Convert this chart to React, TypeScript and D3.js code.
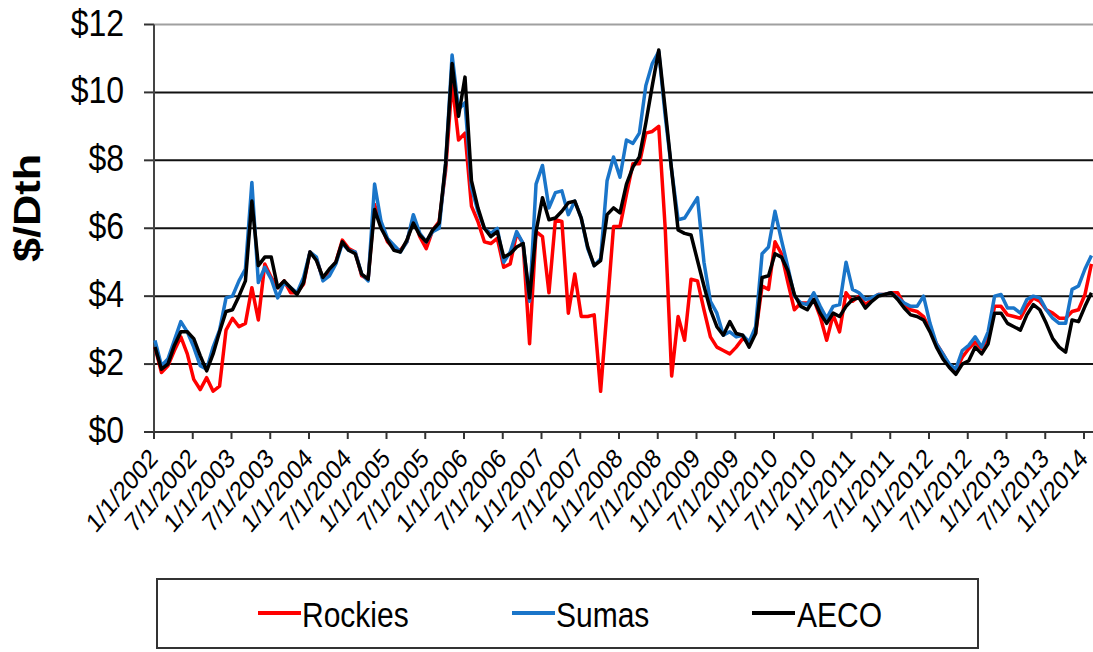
import React from "react";
import * as d3 from "d3";

// Monthly prices, Jan 2002 .. Feb 2014 ($/Dth)
const tickLabels = [
  "1/1/2002", "7/1/2002", "1/1/2003", "7/1/2003", "1/1/2004", "7/1/2004",
  "1/1/2005", "7/1/2005", "1/1/2006", "7/1/2006", "1/1/2007", "7/1/2007",
  "1/1/2008", "7/1/2008", "1/1/2009", "7/1/2009", "1/1/2010", "7/1/2010",
  "1/1/2011", "7/1/2011", "1/1/2012", "7/1/2012", "1/1/2013", "7/1/2013",
  "1/1/2014",
];

const yTicks = [0, 2, 4, 6, 8, 10, 12];

const rockies = [
  2.5, 1.75, 1.95, 2.4, 2.8, 2.3, 1.55, 1.25, 1.6, 1.2,
  1.35, 3.0, 3.35, 3.1, 3.2, 4.25, 3.3, 4.95, 4.55, 4.25,
  4.45, 4.1, 4.1, 4.35, 5.3, 5.1, 4.5, 4.75, 5.0, 5.65,
  5.4, 5.3, 4.6, 4.5, 6.7, 6.1, 5.6, 5.4, 5.35, 5.6,
  6.3, 5.75, 5.4, 5.95, 6.2, 7.7, 10.3, 8.6, 8.8, 6.65,
  6.2, 5.6, 5.55, 5.7, 4.85, 4.95, 5.85, 5.55, 2.6, 5.9,
  5.75, 4.1, 6.25, 6.2, 3.5, 4.65, 3.4, 3.4, 3.45, 1.2,
  3.6, 6.05, 6.05, 7.0, 7.9, 7.9, 8.8, 8.85, 9.0, 6.0,
  1.65, 3.4, 2.7, 4.5, 4.45, 3.6, 2.8, 2.5, 2.4, 2.3,
  2.5, 2.75, 2.65, 2.9, 4.3, 4.2, 5.6, 5.25, 4.4, 3.6,
  3.8, 3.8, 3.9, 3.4, 2.7, 3.45, 2.95, 4.1, 3.85, 4.0,
  3.75, 3.9, 4.05, 4.05, 4.1, 4.1, 3.75, 3.6, 3.55, 3.4,
  3.0, 2.6, 2.3, 1.95, 1.8, 2.2, 2.45, 2.65, 2.45, 2.8,
  3.7, 3.7, 3.45, 3.4, 3.35, 3.7, 3.95, 3.85, 3.6, 3.5,
  3.35, 3.35, 3.55, 3.6, 4.05, 4.95,
];

const sumas = [
  2.7, 1.95, 2.15, 2.7, 3.25, 2.95, 2.5, 1.95, 1.85, 2.5,
  3.0, 3.95, 4.0, 4.45, 4.8, 7.35, 4.4, 4.85, 4.5, 3.95,
  4.4, 4.25, 4.1, 4.55, 5.3, 5.15, 4.45, 4.6, 4.95, 5.55,
  5.35, 5.3, 4.65, 4.45, 7.3, 6.2, 5.7, 5.5, 5.3, 5.6,
  6.4, 5.85, 5.6, 5.9, 6.0, 7.9, 11.1, 9.5, 9.7, 7.2,
  6.5, 6.0, 5.85, 6.0, 5.0, 5.3, 5.9, 5.55, 3.85, 7.3,
  7.85, 6.6, 7.05, 7.1, 6.4, 6.8, 6.3, 5.4, 4.9, 5.1,
  7.4, 8.1, 7.5, 8.6, 8.5, 8.8, 10.2, 10.85, 11.2, 9.3,
  7.7, 6.25, 6.3, 6.6, 6.9, 5.0, 3.85, 3.5, 2.85, 2.95,
  2.8, 2.85, 2.65, 3.1, 5.25, 5.45, 6.5, 5.65, 4.85, 4.0,
  3.8, 3.75, 4.1, 3.7, 3.35, 3.7, 3.75, 5.0, 4.2, 4.1,
  3.9, 3.95, 4.05, 4.05, 4.1, 3.95, 3.8, 3.7, 3.7, 4.0,
  3.2, 2.6, 2.3, 2.0, 1.85, 2.4, 2.55, 2.8, 2.5, 2.95,
  4.0, 4.05, 3.65, 3.65, 3.5, 3.9, 4.0, 3.95, 3.6, 3.35,
  3.2, 3.2, 4.2, 4.3, 4.8, 5.2,
];

const aeco = [
  2.5, 1.85, 2.0, 2.55, 2.95, 2.95, 2.75, 2.25, 1.8, 2.3,
  2.95, 3.55, 3.6, 4.0, 4.45, 6.8, 4.9, 5.15, 5.15, 4.25,
  4.45, 4.25, 4.05, 4.4, 5.3, 5.05, 4.55, 4.8, 5.0, 5.6,
  5.35, 5.25, 4.65, 4.5, 6.55, 6.0, 5.65, 5.35, 5.3, 5.65,
  6.15, 5.8, 5.6, 5.95, 6.15, 7.9, 10.85, 9.3, 10.45, 7.4,
  6.6, 6.0, 5.75, 5.9, 5.15, 5.25, 5.45, 5.55, 3.95, 5.9,
  6.9, 6.25, 6.3, 6.5, 6.75, 6.8, 6.3, 5.45, 4.9, 5.05,
  6.4, 6.6, 6.45, 7.3, 7.8, 8.1, 9.1, 10.2, 11.25, 9.5,
  7.7, 5.95, 5.85, 5.8, 5.05, 4.3, 3.6, 3.1, 2.85, 3.25,
  2.9, 2.85, 2.5, 2.9, 4.55, 4.6, 5.25, 5.15, 4.75, 4.05,
  3.7, 3.6, 3.9, 3.5, 3.2, 3.5, 3.4, 3.7, 3.9, 3.95,
  3.65, 3.85, 4.0, 4.05, 4.1, 3.9, 3.65, 3.45, 3.4, 3.3,
  2.95, 2.5, 2.15, 1.9, 1.7, 2.0, 2.1, 2.5, 2.3, 2.6,
  3.5, 3.5, 3.2, 3.1, 3.0, 3.45, 3.75, 3.6, 3.2, 2.75,
  2.5, 2.35, 3.3, 3.25, 3.7, 4.1,
];

const seriesNames = ["Rockies", "Sumas", "AECO"];
const seriesColors = ["#ff0000", "#1a75c9", "#000000"];
const seriesData = [rockies, sumas, aeco];

const W = 1093;
const H = 652;
const FONT = "'Liberation Sans', Arial, sans-serif";

export default function App() {
  const x = d3.scaleLinear().domain([0, 144]).range([155, 1085]);
  const y = d3.scaleLinear().domain([0, 12]).range([432, 24.5]);
  const line = d3
    .line<number>()
    .x((_, i) => x(i))
    .y((d) => y(d));

  const plotLeft = 154;
  const plotRight = W;

  const legendItems = [
    { lx: 258, tx: 302 },
    { lx: 512, tx: 556 },
    { lx: 752, tx: 797 },
  ];

  return (
    <svg
      width={W}
      height={H}
      style={{ position: "absolute", left: 0, top: 0, background: "#fff" }}
      fontFamily={FONT}
    >
      <rect x={0} y={0} width={W} height={H} fill="#fff" />
      {/* gridlines */}
      {yTicks.map((v) =>
        v === 0 ? null : (
          <line
            key={"g" + v}
            x1={plotLeft}
            x2={plotRight}
            y1={y(v)}
            y2={y(v)}
            stroke={v === 12 ? "#a0a0a0" : "#111"}
            strokeWidth={2}
          />
        )
      )}
      {/* y ticks and labels */}
      {yTicks.map((v) => (
        <g key={"yt" + v}>
          <line x1={144} x2={plotLeft} y1={y(v)} y2={y(v)} stroke="#333" strokeWidth={2} />
          <g transform={`translate(124,${y(v) + 11}) scale(1,1.15)`}>
            <text textAnchor="end" fontSize={32} fill="#000">
              {"$" + v}
            </text>
          </g>
        </g>
      ))}
      {/* axes */}
      <line x1={plotLeft} x2={plotLeft} y1={y(12)} y2={y(0) + 1} stroke="#444" strokeWidth={2} />
      <line x1={plotLeft} x2={plotRight} y1={y(0)} y2={y(0)} stroke="#333" strokeWidth={2} />
      {/* x ticks and labels */}
      {tickLabels.map((lab, k) => {
        const tx = x(k * 6) - 1;
        return (
          <g key={"xt" + k}>
            <line x1={tx} x2={tx} y1={y(0)} y2={y(0) + 7} stroke="#333" strokeWidth={2} />
            <g transform={`translate(${tx + 5},${460}) scale(1,1.17) rotate(-45)`}>
              <text textAnchor="end" fontSize={23} fill="#000">
                {lab}
              </text>
            </g>
          </g>
        );
      })}
      {/* y-axis title */}
      <g transform={`translate(40,208) scale(1,1.17) rotate(-90)`}>
        <text textAnchor="middle" fontSize={37} fontWeight="bold" fill="#000">
          $/Dth
        </text>
      </g>
      {/* series */}
      {seriesData.map((d, s) => (
        <path
          key={seriesNames[s]}
          d={line(d) || ""}
          fill="none"
          stroke={seriesColors[s]}
          strokeWidth={3.5}
          strokeLinejoin="round"
        />
      ))}
      {/* legend */}
      <rect x={157} y={579} width={821} height={69} fill="#fff" stroke="#333" strokeWidth={2} />
      {seriesNames.map((n, s) => (
        <g key={"lg" + n}>
          <line
            x1={legendItems[s].lx}
            x2={legendItems[s].lx + 43}
            y1={613}
            y2={613}
            stroke={seriesColors[s]}
            strokeWidth={4}
          />
          <g transform={`translate(${legendItems[s].tx},627) scale(1,1.17)`}>
            <text fontSize={30} fill="#000">
              {n}
            </text>
          </g>
        </g>
      ))}
    </svg>
  );
}
